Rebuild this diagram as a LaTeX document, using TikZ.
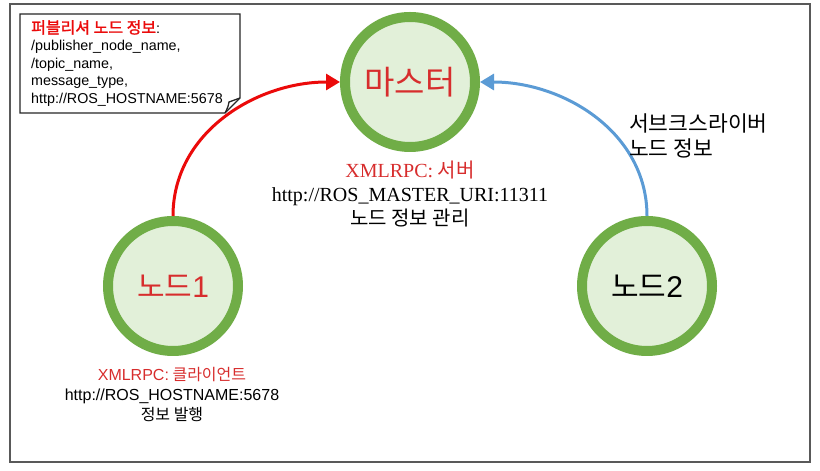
\documentclass[tikz,border=0pt]{standalone}
\usepackage{fontspec}
\setmainfont{Noto Sans CJK KR}
\newfontfamily\krbold[FakeBold=1.5]{Noto Sans CJK KR}
\newfontfamily\lsans{Liberation Sans}
\newfontfamily\lserif{Liberation Serif}
\usetikzlibrary{arrows.meta,positioning}
\definecolor{verde}{RGB}{112,173,71}
\definecolor{verdeclaro}{RGB}{226,240,217}
\definecolor{rojo}{RGB}{235,10,10}
\definecolor{rojotexto}{RGB}{215,45,45}
\definecolor{azul}{RGB}{91,155,213}
\tikzset{
  nodo/.style={circle,draw=verde,line width=10pt,fill=verdeclaro,minimum size=130pt,inner sep=0pt},
  flecha/.style={line width=3pt,-{Triangle[length=14pt,width=16pt]}},
  info/.style={align=center,inner sep=0pt}
}
\begin{document}
\begin{tikzpicture}[x=1pt,y=1pt]
        \useasboundingbox (0,0) rectangle (820,471);
        \draw[black!65,line width=1.5pt] (10,9) rectangle (810,467); % marco
        \node[nodo,text=rojotexto,font=\fontsize{33}{36}\selectfont] (maestro) at (410,389) {마스터};
        \node[nodo,text=rojotexto,font=\fontsize{30}{34}\selectfont] (nodo1) at (173,185) {노드{\lsans 1}};
        \node[nodo,font=\fontsize{30}{34}\selectfont] (nodo2) at (647,185) {노드{\lsans 2}};
        \draw[flecha,rojo] (nodo1.north) to[out=90,in=180] (maestro.west); % publica
        \draw[flecha,azul] (nodo2.north) to[out=90,in=0] (maestro.east); % suscribe
        \node[info,font=\fontsize{20}{24}\selectfont] (infomaestro) at (410,277)
          {\textcolor{rojotexto}{{\lserif XMLRPC:} 서버}\\{\lserif http://ROS\_MASTER\_URI:11311}\\노드 정보 관리};
        \node[info,font=\fontsize{16}{20}\selectfont] (infonodo1) at (172,76)
          {\textcolor{rojotexto}{{\lsans XMLRPC:} 클라이언트}\\{\lsans http://ROS\_HOSTNAME:5678}\\정보 발행};
        \node[info,align=left,anchor=west,font=\fontsize{21.5}{25}\selectfont] (infonodo2) at (629,335)
          {서브크스라이버\\노드 정보};
        \draw[black!85,line width=1.3pt,fill=white] (20,457) -- (240,457) -- (240,373) -- (225,358) -- (20,358) -- cycle; % nota
        \draw[black!85,line width=1.3pt] (225,358) .. controls (228,364) .. (229,369) -- (240,373);
        \node[info,align=left,anchor=north west,font=\fontsize{14.3}{17.5}\selectfont\lsans] (nota) at (31,451)
          {{\krbold\fontsize{16}{18}\selectfont\textcolor{rojo}{퍼블리셔 노드 정보}}:\\/publisher\_node\_name,\\/topic\_name,\\message\_type,\\http://ROS\_HOSTNAME:5678};
\end{tikzpicture}
\end{document}
